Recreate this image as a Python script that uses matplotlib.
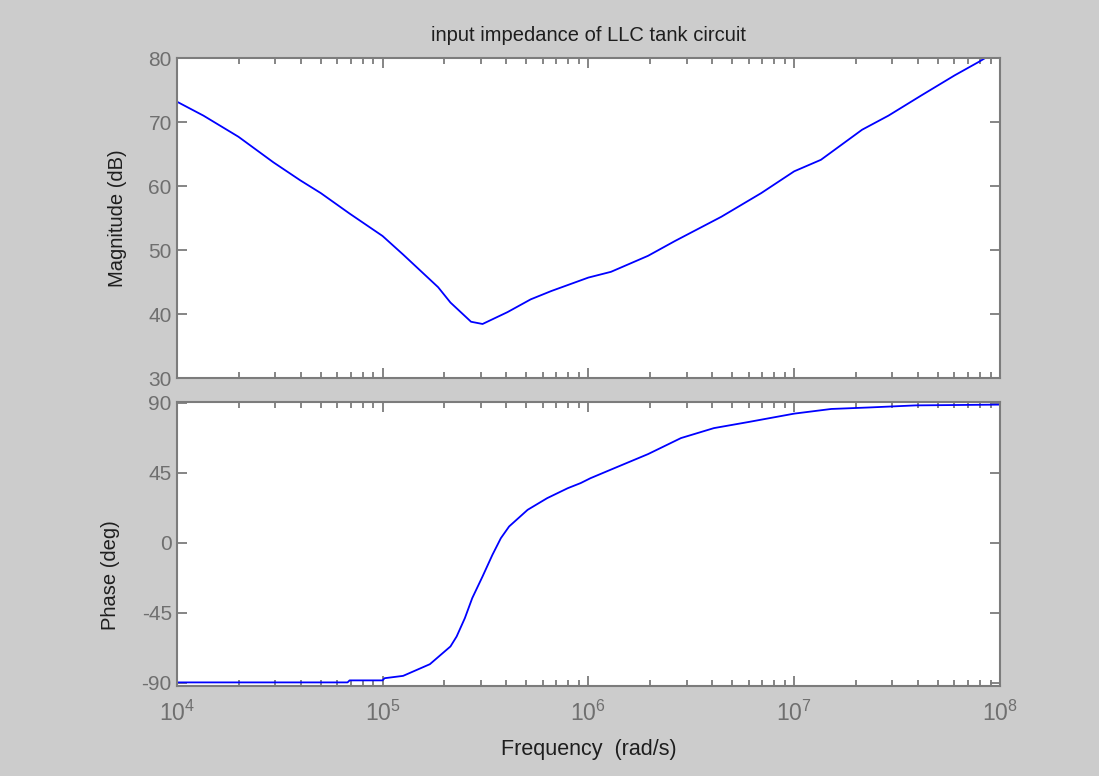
"""
Bode plot of the input impedance of an LLC tank circuit (MATLAB look).
"""

import numpy as np
import matplotlib.pyplot as plt
from matplotlib.ticker import FixedLocator, LogLocator, NullFormatter

plt.rcParams['font.family'] = ['Liberation Sans', 'DejaVu Sans']
plt.rcParams['mathtext.fontset'] = 'custom'
plt.rcParams['mathtext.rm'] = 'Liberation Sans'
plt.rcParams['mathtext.it'] = 'Liberation Sans'
plt.rcParams['axes.unicode_minus'] = False

# Magnitude curve (log10 of rad/s, dB)
mag_logw = [4.0, 4.13, 4.30, 4.47, 4.60, 4.70, 4.84, 5.0, 5.10, 5.27, 5.33,
            5.43, 5.486, 5.607, 5.72, 5.82, 6.0, 6.11, 6.29, 6.42, 6.646,
            6.84, 7.0, 7.13, 7.33, 7.458, 7.62, 7.78, 7.897, 8.0]
mag_db = [73.2, 71.0, 67.7, 63.7, 60.9, 58.9, 55.7, 52.2, 49.3, 44.2, 41.8,
          38.8, 38.45, 40.3, 42.3, 43.6, 45.7, 46.6, 49.1, 51.4, 55.2,
          58.9, 62.3, 64.1, 68.8, 71.0, 74.2, 77.3, 79.4, 81.4]

# Phase curve (log10 of rad/s, degrees)
ph_logw = [4.0, 4.83, 4.84, 5.0, 5.01, 5.10, 5.23, 5.33, 5.36, 5.40, 5.436,
           5.486, 5.534, 5.575, 5.615, 5.705, 5.80, 5.90, 5.963, 6.01, 6.127,
           6.29, 6.45, 6.61, 6.777, 7.0, 7.18, 7.37, 7.59, 8.0]
ph_deg = [-89.7, -89.7, -88.4, -88.4, -87.0, -85.5, -78.0, -66.6, -60.2,
          -48.4, -35.5, -21.6, -7.7, 3.0, 10.5, 21.2, 28.7, 35.1, 38.4, 41.5,
          48.0, 57.0, 67.3, 73.7, 77.6, 83.0, 86.0, 87.0, 88.3, 88.8]

x_ticks = [1e4, 1e5, 1e6, 1e7, 1e8]
x_labels = [r'$10^{4}$', r'$10^{5}$', r'$10^{6}$', r'$10^{7}$', r'$10^{8}$']
mag_ticks = [30, 40, 50, 60, 70, 80]
ph_ticks = [-90, -45, 0, 45, 90]

bg = '#cccccc'
edge = '#7c7c7c'
tick_col = '#6f6f6f'
text_col = '#1e1e1e'

fig = plt.figure(figsize=(10.99, 7.76), dpi=100, facecolor=bg)
ax1 = fig.add_axes([0.1608, 0.5128, 0.7491, 0.4124])
ax2 = fig.add_axes([0.1608, 0.1164, 0.7491, 0.3656])

w_mag = 10.0 ** np.array(mag_logw)
w_ph = 10.0 ** np.array(ph_logw)
ax1.plot(w_mag, mag_db, color='#0000ff', lw=1.3)
ax2.plot(w_ph, ph_deg, color='#0000ff', lw=1.3)

for ax in (ax1, ax2):
    ax.set_xscale('log')
    ax.set_xlim(1e4, 1e8)
    ax.xaxis.set_major_locator(FixedLocator(x_ticks))
    ax.xaxis.set_minor_locator(LogLocator(base=10, subs=np.arange(2, 10)))
    ax.xaxis.set_minor_formatter(NullFormatter())
    ax.tick_params(which='both', direction='in', top=True, right=True,
                   colors=edge, labelcolor=tick_col, labelsize=15, width=1.3)
    ax.tick_params(which='major', length=7)
    ax.tick_params(which='minor', length=4)
    for s in ax.spines.values():
        s.set_color(edge)
        s.set_linewidth(1.5)

ax1.set_ylim(30, 80)
ax1.set_yticks(mag_ticks)
ax1.set_xticklabels([])
ax1.set_ylabel('Magnitude (dB)', fontsize=14.5, color=text_col)
ax1.yaxis.set_label_coords(-0.060, 0.5)
ax1.set_title('input impedance of LLC tank circuit', fontsize=14.5,
              color=text_col, pad=12)

ax2.set_ylim(-91.8, 90.5)
ax2.set_yticks(ph_ticks)
ax2.set_xticklabels(x_labels)
ax2.tick_params(axis='x', pad=11, labelsize=16.5)
ax2.set_ylabel('Phase (deg)', fontsize=14.5, color=text_col)
ax2.yaxis.set_label_coords(-0.069, 0.39)
ax2.set_xlabel('Frequency  (rad/s)', fontsize=15.5, color=text_col,
               labelpad=9)

fig.savefig('out.png', dpi=100, facecolor=bg)
